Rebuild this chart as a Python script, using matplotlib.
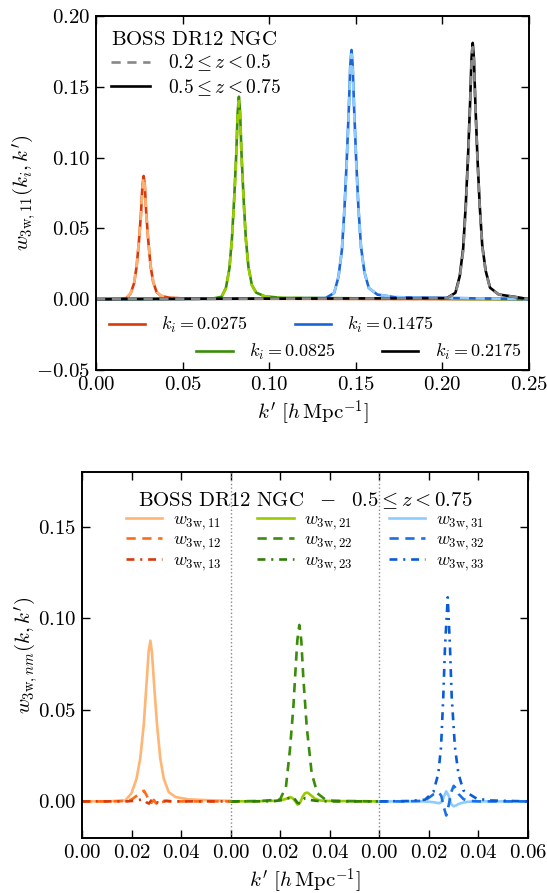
import numpy as np
import matplotlib
matplotlib.use("Agg")
import matplotlib.pyplot as plt
from matplotlib.lines import Line2D

plt.rcParams['mathtext.fontset'] = 'cm'
plt.rcParams['font.family'] = 'serif'
plt.rcParams['font.serif'] = ['cmr10', 'DejaVu Serif']
plt.rcParams['axes.formatter.use_mathtext'] = True
plt.rcParams['axes.unicode_minus'] = True

# ---------- top panel data: w_3w,11(k_i, k') ----------
k_centres = [0.0275, 0.0825, 0.1475, 0.2175]
k_labels = ['0.0275', '0.0825', '0.1475', '0.2175']
# k' offsets from each k_i
dk = [-0.015, -0.010, -0.0075, -0.0055, -0.004, -0.0027, -0.0015, -0.0007, 0.0,
      0.0007, 0.0015, 0.0027, 0.004, 0.0055, 0.0075, 0.010, 0.015, 0.025]

# 0.5 <= z < 0.75 (solid)
w_hi_0275 = [0.0002, 0.0007, 0.004, 0.0113, 0.0235, 0.041, 0.061, 0.080, 0.087,
             0.080, 0.061, 0.041, 0.0235, 0.0122, 0.005, 0.0023, 0.001, 0.0004]
w_hi_0825 = [0.0004, 0.0017, 0.0079, 0.0215, 0.043, 0.0715, 0.103, 0.132, 0.143,
             0.132, 0.103, 0.0715, 0.043, 0.0229, 0.010, 0.0046, 0.002, 0.0009]
w_hi_1475 = [0.0007, 0.0044, 0.0158, 0.035, 0.065, 0.099, 0.1355, 0.165, 0.176,
             0.165, 0.1355, 0.099, 0.065, 0.037, 0.019, 0.0079, 0.0032, 0.0014]
w_hi_2175 = [0.0007, 0.0045, 0.0163, 0.036, 0.067, 0.101, 0.139, 0.170, 0.181,
             0.170, 0.139, 0.101, 0.067, 0.038, 0.020, 0.0081, 0.0033, 0.0015]
# 0.2 <= z < 0.5 (dashed)
w_lo_0275 = [0.0002, 0.0008, 0.0042, 0.0115, 0.024, 0.041, 0.060, 0.079, 0.086,
             0.079, 0.060, 0.041, 0.024, 0.0125, 0.0052, 0.0024, 0.001, 0.0004]
w_lo_0825 = [0.0004, 0.0017, 0.0077, 0.021, 0.042, 0.070, 0.101, 0.129, 0.140,
             0.129, 0.101, 0.070, 0.042, 0.0224, 0.0098, 0.0045, 0.002, 0.0008]
w_lo_1475 = [0.0007, 0.0045, 0.016, 0.035, 0.064, 0.097, 0.133, 0.162, 0.173,
             0.162, 0.133, 0.097, 0.064, 0.036, 0.019, 0.008, 0.0033, 0.0014]
w_lo_2175 = [0.0006, 0.004, 0.015, 0.034, 0.064, 0.098, 0.136, 0.167, 0.178,
             0.168, 0.138, 0.100, 0.066, 0.037, 0.019, 0.008, 0.0033, 0.0014]

w_hi = [w_hi_0275, w_hi_0825, w_hi_1475, w_hi_2175]
w_lo = [w_lo_0275, w_lo_0825, w_lo_1475, w_lo_2175]
col_hi = ['#d93a0b', '#3a8c0a', '#1a66d9', '#000000']
col_lo = ['#ffb070', '#9acd00', '#8ecbff', '#888888']

# ---------- bottom panel data: w_3w,nm(k, k'), k_i = 0.0275 ----------
k_w11 = [0.0, 0.012, 0.0175, 0.020, 0.022, 0.0235, 0.0249, 0.026, 0.0269, 0.0276,
         0.0282, 0.0293, 0.0303, 0.0316, 0.033, 0.035, 0.0377, 0.043, 0.054, 0.06]
w11 = [0.0, 0.0001, 0.0005, 0.0045, 0.0124, 0.0234, 0.0416, 0.0635, 0.0818, 0.0878,
       0.0818, 0.0599, 0.0416, 0.0234, 0.0124, 0.0051, 0.0024, 0.0011, 0.0005, 0.0003]

k_small = [0.0, 0.010, 0.018, 0.020, 0.022, 0.024, 0.025, 0.026, 0.027, 0.028,
           0.029, 0.030, 0.031, 0.032, 0.034, 0.036, 0.040, 0.050, 0.060]
w12 = [0, 0, 0.0002, 0.001, 0.003, 0.0052, 0.0058, 0.0035, 0.0005, -0.0008,
       0.0008, -0.0012, 0.0003, -0.0005, 0.0002, 0.0001, 0, 0, 0]
w13 = [0, 0, 0, 0.0002, 0.0005, 0.001, 0.0008, -0.0005, -0.0012, 0.0006,
       0.001, -0.0004, -0.0008, 0.0002, 0.0003, 0, 0, 0, 0]
w21 = [0, 0.0001, 0.0003, 0.0006, 0.0012, 0.0023, 0.0018, 0.0002, -0.0018, -0.0008,
       0.0025, 0.0045, 0.0048, 0.0038, 0.0015, 0.0005, 0.0002, 0.0001, 0]
w23 = [0, 0, 0.0002, 0.0006, 0.0012, 0.002, 0.0025, 0.001, -0.0008, -0.0012,
       0.0005, 0.0018, 0.0015, 0.0008, 0.0004, 0.0001, 0, 0, 0]
w31 = [0, 0, 0, -0.0002, -0.0005, -0.001, -0.0005, 0.0025, 0.0055, 0.003,
       -0.0015, -0.0027, -0.0022, -0.0014, -0.0006, -0.0002, 0, 0, 0]
w32 = [0, 0, 0.0003, 0.002, 0.004, 0.005, 0.003, -0.003, -0.0077, -0.002,
       0.005, 0.0085, 0.007, 0.004, 0.0012, 0.0003, 0, 0, 0]

k_w22 = [0.0, 0.012, 0.0199, 0.0223, 0.0239, 0.0253, 0.0260, 0.0269, 0.0277,
         0.0285, 0.0293, 0.0307, 0.0327, 0.0350, 0.0387, 0.045, 0.06]
w22 = [0, 0.0002, 0.001, 0.0078, 0.028, 0.0516, 0.068, 0.088, 0.0964,
       0.088, 0.068, 0.0407, 0.0153, 0.0044, 0.0005, 0.0002, 0]
k_w33 = [0.0, 0.012, 0.0184, 0.0218, 0.0238, 0.0249, 0.0258, 0.0265, 0.0276,
         0.0285, 0.0292, 0.0305, 0.0319, 0.0339, 0.0393, 0.045, 0.06]
w33 = [0, 0.0002, 0.0009, 0.0051, 0.0152, 0.0297, 0.0571, 0.0845, 0.1115,
       0.0845, 0.0571, 0.0297, 0.0152, 0.006, 0.0015, 0.0005, 0]

bottom_ticks = [0.00, 0.02, 0.04, 0.06, 0.08, 0.10, 0.12, 0.14, 0.16, 0.18]
bottom_ticklabels = ['0.00', '0.02', '0.04', '0.00', '0.02', '0.04', '0.00', '0.02', '0.04', '0.06']

DASH = (0, (3.5, 2.5))
DASHDOT = (0, (3.0, 2.2, 0.8, 2.2))

fig = plt.figure(figsize=(5.47, 8.93), dpi=100)
ax1 = fig.add_axes([0.1755, 0.5857, 0.7916, 0.3964])
ax2 = fig.add_axes([0.1499, 0.0616, 0.8154, 0.4099])

# ---- top panel ----
handles_k = []
for c, hi, lo, ch, cl, lab in zip(k_centres, w_hi, w_lo, col_hi, col_lo, k_labels):
    kk = np.r_[0.0, c + np.array(dk), 0.25]
    ax1.plot(kk, np.r_[0.0, hi, 0.0], color=ch, lw=1.9)
    ax1.plot(kk, np.r_[0.0, lo, 0.0], color=cl, lw=1.9, ls=DASH)
    handles_k.append(Line2D([], [], color=ch, lw=1.9, label=r'$k_i = %s$' % lab))

ax1.set_xlim(0, 0.25)
ax1.set_ylim(-0.05, 0.20)
ax1.set_xticks([0, 0.05, 0.10, 0.15, 0.20, 0.25])
ax1.set_yticks([-0.05, 0, 0.05, 0.10, 0.15, 0.20])
ax1.set_xticklabels(['$%.2f$' % v for v in [0, 0.05, 0.10, 0.15, 0.20, 0.25]])
ax1.set_yticklabels(['$-0.05$'] + ['$%.2f$' % v for v in [0, 0.05, 0.10, 0.15, 0.20]])
ax1.set_xlabel(r"$k'\ [h\,\mathrm{Mpc}^{-1}]$", fontsize=15, labelpad=3)
ax1.set_ylabel(r"$w_{3\mathrm{w},11}(k_i, k')$", fontsize=15, labelpad=-2)

z_handles = [Line2D([], [], color='#888888', lw=1.9, ls=DASH, label=r'$0.2 \leq z < 0.5$'),
             Line2D([], [], color='k', lw=1.9, label=r'$0.5 \leq z < 0.75$')]
leg_z = ax1.legend(handles=z_handles, loc='upper left', bbox_to_anchor=(0.035, 0.958),
                   frameon=False, fontsize=14, title=r'$\mathrm{BOSS\ DR12\ NGC}$',
                   title_fontsize=15, alignment='left', borderpad=0, borderaxespad=0,
                   handlelength=2.0, handletextpad=0.9, labelspacing=0.2)
ax1.add_artist(leg_z)
leg_a = ax1.legend(handles=[handles_k[0], handles_k[2]], loc='center left',
                   bbox_to_anchor=(0.03, 0.127), ncol=2, frameon=False, fontsize=13,
                   borderpad=0, borderaxespad=0, handlelength=2.0, handletextpad=0.9,
                   columnspacing=2.6)
ax1.add_artist(leg_a)
ax1.legend(handles=[handles_k[1], handles_k[3]], loc='center left',
           bbox_to_anchor=(0.232, 0.051), ncol=2, frameon=False, fontsize=13,
           borderpad=0, borderaxespad=0, handlelength=2.0, handletextpad=0.9,
           columnspacing=2.6)

# ---- bottom panel ----
groups = [
    (0.00, [(k_w11, w11, '#ffb574', '-'), (k_small, w12, '#ff6a14', DASH), (k_small, w13, '#d93a0b', DASHDOT)]),
    (0.06, [(k_small, w21, '#99cc00', '-'), (k_w22, w22, '#3a8c0a', DASH), (k_small, w23, '#2e7d0a', DASHDOT)]),
    (0.12, [(k_small, w31, '#8ecbff', '-'), (k_small, w32, '#1a70e6', DASH), (k_w33, w33, '#0b5bd9', DASHDOT)]),
]
names = [['11', '12', '13'], ['21', '22', '23'], ['31', '32', '33']]
leg_handles = []
for (off, curves), nm in zip(groups, names):
    for (kx, wy, col, ls), n in zip(curves, nm):
        ax2.plot(np.array(kx) + off, wy, color=col, lw=1.9, ls=ls)
        leg_handles.append(Line2D([], [], color=col, lw=1.9, ls=ls,
                                  label=r'$w_{3\mathrm{w},%s}$' % n))

for xv in [0.06, 0.12]:
    ax2.axvline(xv, color='#888888', lw=1.0, ls=':')

ax2.set_xlim(0, 0.18)
ax2.set_ylim(-0.02, 0.18)
ax2.set_xticks(bottom_ticks)
ax2.set_xticklabels(['$%s$' % s for s in bottom_ticklabels])
ax2.set_yticks([0, 0.05, 0.10, 0.15])
ax2.set_yticklabels(['$%.2f$' % v for v in [0, 0.05, 0.10, 0.15]])
ax2.set_xlabel(r"$k'\ [h\,\mathrm{Mpc}^{-1}]$", fontsize=15, labelpad=3)
ax2.set_ylabel(r"$w_{3\mathrm{w},nm}(k, k')$", fontsize=15, labelpad=-2)
ax2.legend(handles=leg_handles, loc='upper center', bbox_to_anchor=(0.5, 0.95), ncol=3,
           frameon=False, fontsize=13,
           title=r'$\mathrm{BOSS\ DR12\ NGC}\ \ -\ \ 0.5 \leq z < 0.75$',
           title_fontsize=15, borderpad=0, borderaxespad=0, handlelength=2.0,
           handletextpad=0.6, labelspacing=0.02, columnspacing=2.0)

for ax in (ax1, ax2):
    ax.tick_params(direction='in', top=True, right=True, length=6, width=1,
                   labelsize=15, pad=4)
    for sp in ax.spines.values():
        sp.set_linewidth(1.4)

fig.savefig('out.png', dpi=100)
